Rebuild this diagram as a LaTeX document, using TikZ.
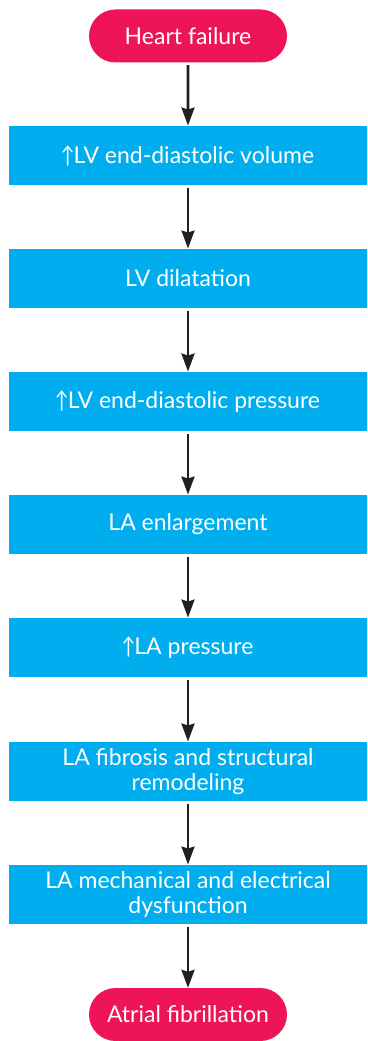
\documentclass[tikz,border=0pt]{standalone}
\usepackage{fontspec}
\setmainfont{Lato}
\usetikzlibrary{arrows.meta,shapes.misc}
\definecolor{pinkfill}{HTML}{ED1458}
\definecolor{bluefill}{HTML}{00AEEF}
\definecolor{arrowcol}{HTML}{231F20}
\newcommand{\uparr}{\kern-1pt\scalebox{0.8}[1]{\char"2191}\kern-1pt}
\begin{document}
\begin{tikzpicture}[x=1pt,y=1pt,
  pill/.style={rounded rectangle, fill=pinkfill, text=white, minimum width=198pt, minimum height=53pt, inner sep=0pt, font=\fontsize{23}{25}\selectfont},
  stepbox/.style={rectangle, fill=bluefill, text=white, minimum width=358pt, minimum height=59.5pt, inner sep=0pt, align=center, font=\fontsize{23}{25}\selectfont},
  flow/.style={draw=arrowcol, line width=2.6pt, -{Stealth[length=18pt,width=13pt,inset=2pt]}, shorten <=2.5pt}
]
\useasboundingbox (0,0) rectangle (367,-1041);
\node[pill] (hf) at (188,-36) {Heart failure};
\node[stepbox] (b1) at (188,-155.5) {\uparr LV end-diastolic volume};
\node[stepbox] (b2) at (188,-278.5) {LV dilatation};
\node[stepbox] (b3) at (188,-401.5) {\uparr LV end-diastolic pressure};
\node[stepbox] (b4) at (188,-524.5) {LA enlargement};
\node[stepbox] (b5) at (188,-647.5) {\uparr LA pressure};
\node[stepbox] (b6) at (188,-771.5) {LA fibrosis and structural\\remodeling};
\node[stepbox] (b7) at (188,-894.5) {LA mechanical and electrical\\dysfunction};
\node[pill] (af) at (188,-1014.5) {Atrial fibrillation};
\draw[flow] (hf) -- (b1);
\draw[flow] (b1) -- (b2);
\draw[flow] (b2) -- (b3);
\draw[flow] (b3) -- (b4);
\draw[flow] (b4) -- (b5);
\draw[flow] (b5) -- (b6);
\draw[flow] (b6) -- (b7);
\draw[flow] (b7) -- (af);
\end{tikzpicture}
\end{document}
